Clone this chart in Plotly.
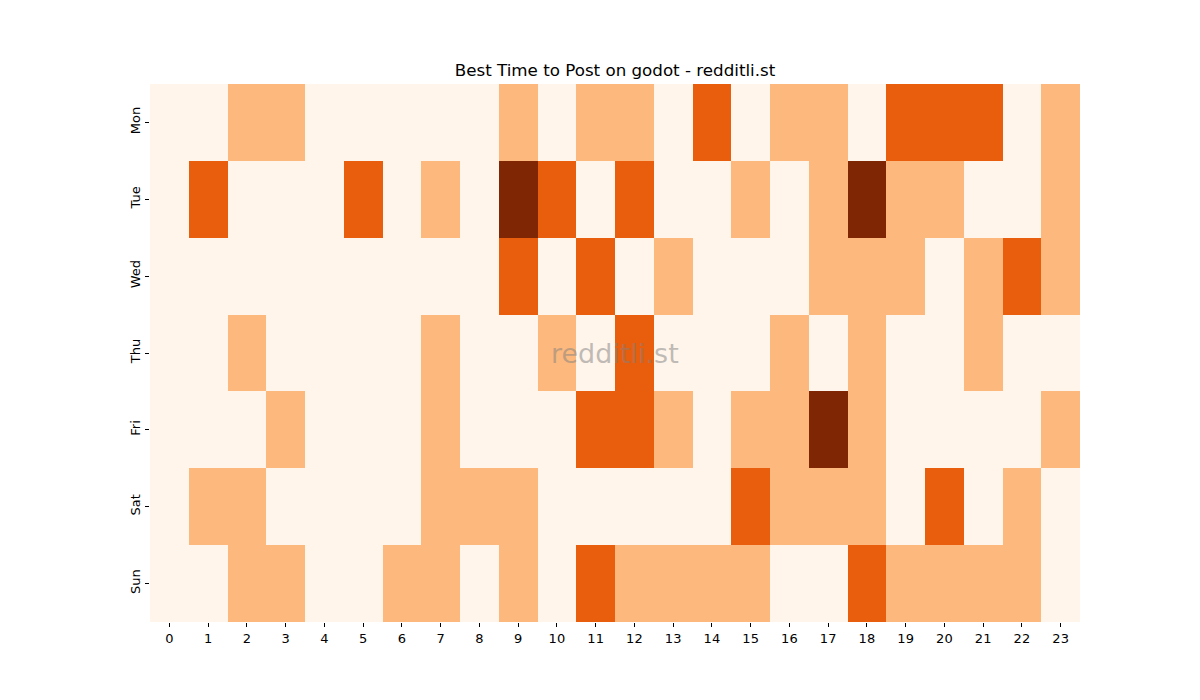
import plotly.graph_objects as go

# hours of the day and weekdays
hours = list(range(24))
days = ["Mon", "Tue", "Wed", "Thu", "Fri", "Sat", "Sun"]

# activity level per hour (0 = low ... 3 = best)
mon = [0, 0, 1, 1, 0, 0, 0, 0, 0, 1, 0, 1, 1, 0, 2, 0, 1, 1, 0, 2, 2, 2, 0, 1]
tue = [0, 2, 0, 0, 0, 2, 0, 1, 0, 3, 2, 0, 2, 0, 0, 1, 0, 1, 3, 1, 1, 0, 0, 1]
wed = [0, 0, 0, 0, 0, 0, 0, 0, 0, 2, 0, 2, 0, 1, 0, 0, 0, 1, 1, 1, 0, 1, 2, 1]
thu = [0, 0, 1, 0, 0, 0, 0, 1, 0, 0, 1, 0, 2, 0, 0, 0, 1, 0, 1, 0, 0, 1, 0, 0]
fri = [0, 0, 0, 1, 0, 0, 0, 1, 0, 0, 0, 2, 2, 1, 0, 1, 1, 3, 1, 0, 0, 0, 0, 1]
sat = [0, 1, 1, 0, 0, 0, 0, 1, 1, 1, 0, 0, 0, 0, 0, 2, 1, 1, 1, 0, 2, 0, 1, 0]
sun = [0, 0, 1, 1, 0, 0, 1, 1, 0, 1, 0, 2, 1, 1, 1, 1, 0, 0, 2, 1, 1, 1, 1, 0]

levels = [mon, tue, wed, thu, fri, sat, sun]

palette = [
    [0.0, "#fff5eb"],
    [1 / 3, "#fdb97d"],
    [2 / 3, "#e95e0d"],
    [1.0, "#7f2704"],
]

fig = go.Figure(
    go.Heatmap(
        z=levels,
        x=hours,
        y=days,
        zmin=0,
        zmax=3,
        colorscale=palette,
        showscale=False,
        hovertemplate="%{y} %{x}:00<br>%{z}<extra></extra>",
    )
)

# the page adds an 8px body margin, so the figure is laid out with that in mind
fig.update_layout(
    width=1200,
    height=700,
    paper_bgcolor="white",
    plot_bgcolor="white",
    margin=dict(l=142, r=128, t=76, b=86),
    font=dict(family="DejaVu Sans", size=13, color="black"),
    title=dict(
        text="Best Time to Post on godot - redditli.st",
        x=607 / 1200,
        xanchor="center",
        y=1 - 62 / 700,
        yanchor="middle",
        yref="container",
        font=dict(size=16.7, color="black"),
    ),
    annotations=[
        dict(
            text="redditli.st",
            x=0.5,
            y=0.5,
            xref="paper",
            yref="paper",
            showarrow=False,
            font=dict(size=27, color="rgba(128,128,128,0.5)"),
        )
    ],
)

fig.update_xaxes(
    tickmode="array",
    tickvals=hours,
    ticktext=[str(h) for h in hours],
    ticks="outside",
    ticklen=4,
    tickcolor="black",
    showgrid=False,
    zeroline=False,
    showline=False,
)

fig.update_yaxes(
    autorange="reversed",
    tickangle=-90,
    ticks="outside",
    ticklen=4,
    tickcolor="black",
    showgrid=False,
    zeroline=False,
    showline=False,
)

fig.write_html("out.html")
